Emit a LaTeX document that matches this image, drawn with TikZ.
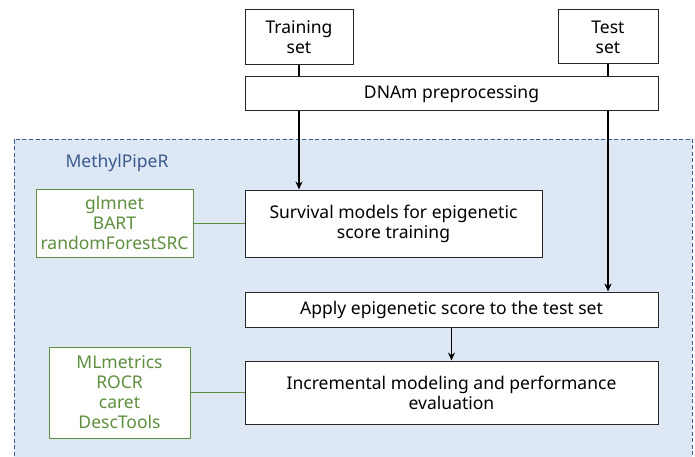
\documentclass[tikz,border=0pt]{standalone}
\usepackage{fontspec}
\setmainfont{Noto Sans}
\usetikzlibrary{arrows.meta}
\definecolor{regfill}{HTML}{DDE8F4}
\definecolor{regline}{HTML}{3B5A8F}
\definecolor{pkg}{HTML}{5E8F3E}
\tikzset{
  box/.style={draw=black!85, line width=1pt, fill=white, rectangle, align=center, inner sep=0pt,
     font=\fontsize{17.5}{20}\selectfont},
  pkgbox/.style={draw=pkg, line width=1pt, fill=white, rectangle, align=center, inner sep=0pt,
     text=pkg, font=\fontsize{17.5}{20}\selectfont},
  flow/.style={line width=1.8pt, -{Stealth[length=8pt,width=7pt]}},
  plain/.style={line width=1.8pt},
  link/.style={draw=pkg, line width=1pt}
}
\begin{document}
\begin{tikzpicture}[x=1pt,y=-1pt]
\useasboundingbox (0,0) rectangle (695,457);
\fill[regfill] (14,139) rectangle (692,462);
\draw[regline, dashed, line width=0.8pt, dash pattern=on 4pt off 2.5pt] (14,462) -- (14,139) -- (692,139) -- (692,462);
\node[anchor=west, text=regline, font=\fontsize{17.5}{20}\selectfont] (lbl) at (62,163) {MethylPipeR};

\node[box, minimum width=108pt, minimum height=55pt] (train) at (299,37.5) {Training\\set};
\node[box, minimum width=100pt, minimum height=54pt] (test) at (608,37) {Test\\set};
\node[box, minimum width=413pt, minimum height=34pt] (dnam) at (451.5,94) {DNAm preprocessing};
\node[box, minimum width=297pt, minimum height=67pt] (surv) at (393.5,223.5) {Survival models for epigenetic\\score training};
\node[box, minimum width=413pt, minimum height=35pt] (apply) at (451.5,309.5) {Apply epigenetic score to the test set};
\node[box, minimum width=413pt, minimum height=63pt] (incr) at (451.5,392.5) {Incremental modeling and performance\\evaluation};
\node[pkgbox, minimum width=157pt, minimum height=68pt] (pk1) at (114.5,223) {glmnet\\BART\\randomForestSRC};
\node[pkgbox, minimum width=141pt, minimum height=91pt] (pk2) at (119.5,392.5) {MLmetrics\\ROCR\\caret\\DescTools};

\draw[plain] (train.south) -- (train.south |- dnam.north);
\draw[plain] (test.south) -- (test.south |- dnam.north);
\draw[flow] (train.south |- dnam.south) -- (train.south |- surv.north);
\draw[flow] (test.south |- dnam.south) -- (test.south |- apply.north);
\draw[flow] (apply.south) -- (incr.north);
\draw[link] (pk1.east) -- (pk1.east -| surv.west);
\draw[link] (pk2.east) -- (pk2.east -| incr.west);
\end{tikzpicture}
\end{document}
